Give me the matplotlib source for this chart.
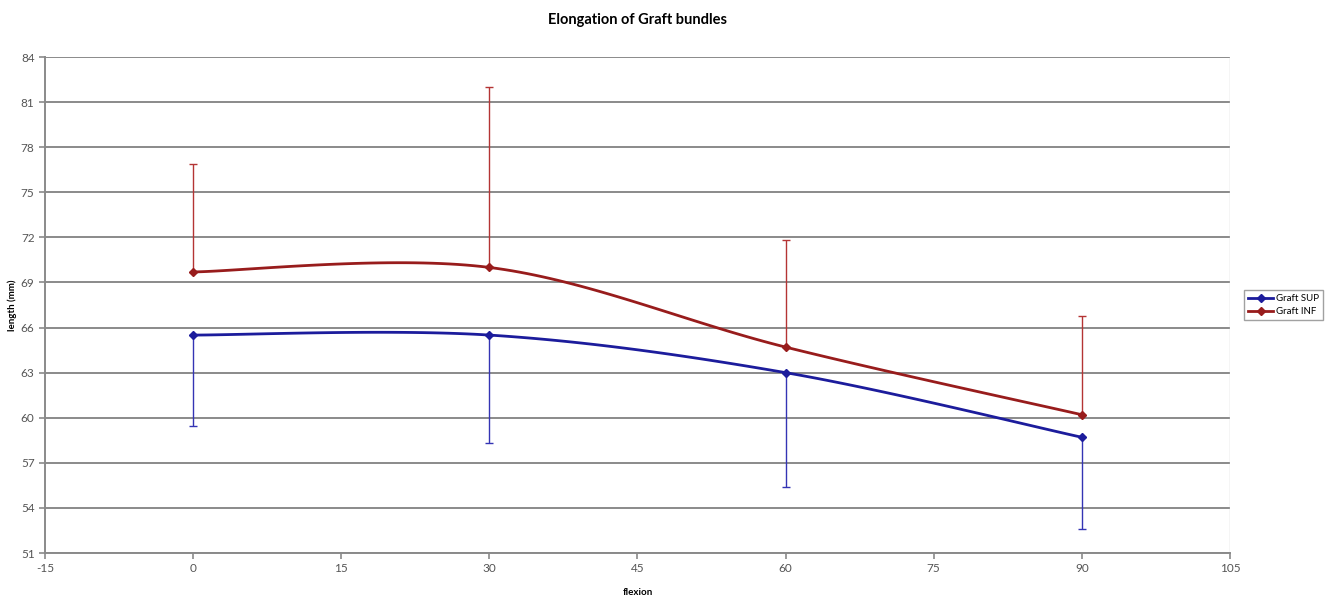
import numpy as np
import matplotlib.pyplot as plt

plt.rcParams['font.family'] = ['Lato', 'DejaVu Sans']
plt.rcParams['axes.unicode_minus'] = False

flexion = [0, 30, 60, 90]
graft_sup = [65.5, 65.5, 63.0, 58.7]
graft_sup_err = [6.05, 7.2, 7.6, 6.1]     # downward only
graft_inf = [69.7, 70.0, 64.7, 60.2]
graft_inf_err = [7.2, 12.0, 7.1, 6.6]     # upward only


def smooth(xs, ys, n=40):
    # excel-like smoothed line (catmull-rom bezier)
    p = np.column_stack([xs, ys]).astype(float)
    p = np.vstack([p[0], p, p[-1]])
    out = []
    t = np.linspace(0, 1, n)[:, None]
    for i in range(1, len(p) - 2):
        p0, p3 = p[i], p[i + 1]
        c1 = p0 + (p[i + 1] - p[i - 1]) / 6
        c2 = p3 - (p[i + 2] - p[i]) / 6
        seg = (1 - t) ** 3 * p0 + 3 * (1 - t) ** 2 * t * c1 + 3 * (1 - t) * t ** 2 * c2 + t ** 3 * p3
        out.append(seg)
    out = np.vstack(out)
    return out[:, 0], out[:, 1]


sup_c = '#1c1c9c'
inf_c = '#981c1c'

fig = plt.figure(figsize=(13.32, 6), dpi=100)
ax = fig.add_axes([0.0338, 0.0783, 0.8896, 0.8267])

ax.set_axisbelow(True)
ax.grid(axis='y', color='#8a8a8a', linewidth=1.4)

# error bars
ax.errorbar(flexion, graft_sup, yerr=[graft_sup_err, [0] * 4], fmt='none',
            ecolor='#3434b4', elinewidth=1.0, capsize=3, capthick=1.0)
ax.errorbar(flexion, graft_inf, yerr=[[0] * 4, graft_inf_err], fmt='none',
            ecolor='#b43434', elinewidth=1.0, capsize=3, capthick=1.0)

sx, sy = smooth(flexion, graft_sup)
ax.plot(sx, sy, color=sup_c, linewidth=2)
ax.plot(flexion, graft_sup, linestyle='none', marker='D', markersize=4, color=sup_c)
ix, iy = smooth(flexion, graft_inf)
ax.plot(ix, iy, color=inf_c, linewidth=2)
ax.plot(flexion, graft_inf, linestyle='none', marker='D', markersize=4, color=inf_c)

# legend proxies
ax.plot([], [], color=sup_c, linewidth=2, marker='D', markersize=4, label='Graft SUP')
ax.plot([], [], color=inf_c, linewidth=2, marker='D', markersize=4, label='Graft INF')
leg = ax.legend(loc='center left', bbox_to_anchor=(1.012, 0.5), fontsize=7,
                frameon=True, fancybox=False, edgecolor='#8a8a8a',
                handlelength=2.6, handletextpad=0.3, borderpad=0.4,
                labelspacing=0.4, borderaxespad=0)
leg.get_frame().set_linewidth(1.0)

ax.set_xlim(-15, 105)
ax.set_ylim(51, 84)
ax.set_xticks(np.arange(-15, 106, 15))
ax.set_yticks(np.arange(51, 85, 3))
ax.tick_params(axis='both', labelsize=8.5, colors='#8a8a8a', labelcolor='#555555',
               length=4, width=1.2, direction='out')

for s in ['top', 'right']:
    ax.spines[s].set_visible(False)
for s in ['left', 'bottom']:
    ax.spines[s].set_color('#8a8a8a')
    ax.spines[s].set_linewidth(1.4)
ax.axvline(105, color='#d0d0d0', linewidth=1.0)

ax.set_title('Elongation of Graft bundles', fontsize=10.5, fontweight='bold', pad=24)
ax.set_xlabel('flexion', fontsize=7, fontweight='bold', labelpad=10)
ax.set_ylabel('length (mm)', fontsize=7, fontweight='bold', labelpad=3)

plt.savefig('out.png', dpi=100)
